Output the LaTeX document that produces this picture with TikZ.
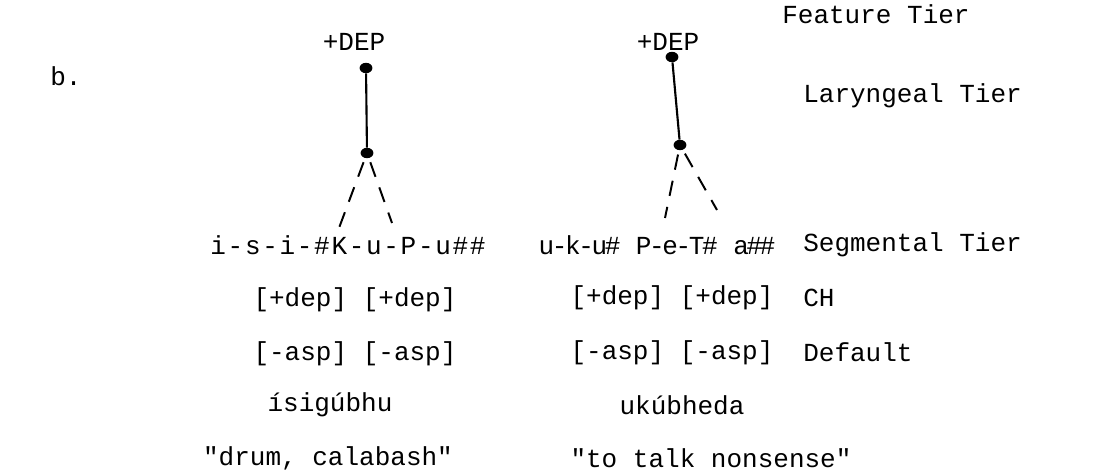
\documentclass[tikz,border=0pt]{standalone}
\usepackage{fontspec}
\setmonofont{Liberation Mono}
\usepackage{tikz}

% small gaps for the typed segment strings
\newcommand\sgap{\kern1.2pt}
\newcommand\sneg{\kern-1.7pt}

\tikzset{
  tw/.style={font=\ttfamily\fontsize{18.5}{21}\selectfont, inner sep=0pt},
  dot/.style={ellipse, fill=black, inner sep=0pt, minimum width=3.2mm, minimum height=2.6mm},
  assoc/.style={line width=1.5pt},
  dassoc/.style={line width=1.4pt, dash pattern=on 11pt off 8pt, shorten <=3pt}
}
\usetikzlibrary{shapes.geometric}

\begin{document}
\begin{tikzpicture}[x=0.025cm, y=-0.025cm]
			%%%%% START %%%%%
			\useasboundingbox (0, 0) rectangle (1096, 472);
			
			\node[tw, anchor=west] (lbl) at (50, 76) {b.};
			
			% left form
			\node[tw] (depL) at (354, 42) {+DEP};
			\node[dot] (topL) at (366, 68) {};
			\node[dot] (larL) at (367, 153) {};
			\coordinate (kL) at (339, 228);
			\coordinate (pL) at (392, 223);
			\draw[assoc] (topL) -- (larL);
			\draw[dassoc] (larL) -- (kL);
			\draw[dassoc] (larL) -- (pL);
			
			\node[tw] (segL) at (348, 245) {i\sgap-\sgap s\sgap-\sgap i\sgap-\sgap\#\sgap K\sgap-\sgap u\sgap-\sgap P\sgap-\sgap u\sgap\#\sgap\#};
			\node[tw] (chL) at (355, 300) {[+dep] [+dep]};
			\node[tw] (defL) at (355, 354) {[-asp] [-asp]};
			\node[tw] (wordL) at (330, 405) {ísigúbhu};
			\node[tw] (glossL) at (328, 458) {"drum, calabash"};
			
			% right form
			\node[tw] (depR) at (668, 42) {+DEP};
			\node[dot] (topR) at (672, 57) {};
			\node[dot] (larR) at (680, 145) {};
			\coordinate (pR) at (665, 218);
			\coordinate (tR) at (717, 210);
			\draw[assoc] (topR) -- (larR);
			\draw[dassoc] (larR) -- (pR);
			\draw[dassoc] (larR) -- (tR);
			
			\node[tw] (segR) at (657, 245) {u\sneg-\sneg k\sneg-\sneg u\sneg\#\ P\sneg-\sneg e\sneg-\sneg T\sneg\#\ a\sneg\#\sneg\#};
			\node[tw] (chR) at (672, 298) {[+dep] [+dep]};
			\node[tw] (defR) at (672, 353) {[-asp] [-asp]};
			\node[tw] (wordR) at (682, 405) {ukúbheda};
			\node[tw] (glossR) at (711, 458) {"to talk nonsense"};
			
			% tier labels
			\node[tw, anchor=west] (featT) at (782, 14) {Feature Tier};
			\node[tw, anchor=west] (larT) at (803, 96) {Laryngeal Tier};
			\node[tw, anchor=west] (segT) at (803, 245) {Segmental Tier};
			\node[tw, anchor=west] (chT) at (803, 298) {CH};
			\node[tw, anchor=west] (defT) at (803, 352) {Default};
			
			%%%%% END %%%%%
		\end{tikzpicture}
\end{document}
